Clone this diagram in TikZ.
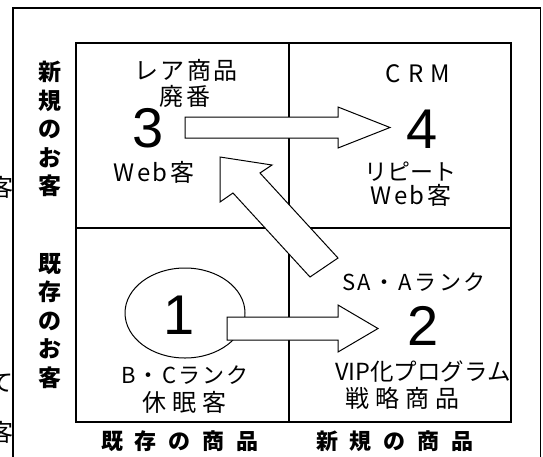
\documentclass[tikz,border=0pt]{standalone}
\usepackage{fontspec}
\newfontfamily\jp{Noto Sans CJK JP}
\newfontfamily\num{Liberation Sans}
\tikzset{
  x=1pt, y=-1pt,
  frame/.style={line width=1.2pt, draw=black},
  blockarrow/.style={line width=1pt, draw=black, fill=white, line join=miter},
  txt/.style={inner sep=0pt, font=\jp\fontsize{24}{26}\selectfont\addfontfeature{LetterSpace=10}},
  digit/.style={inner sep=0pt, font=\num\fontsize{56}{56}\selectfont},
  side/.style={inner sep=0pt, align=center, font=\jp\bfseries\fontsize{23}{28.5}\selectfont},
  bottomlbl/.style={inner sep=0pt, font=\jp\bfseries\fontsize{22}{24}\selectfont},
  ghost/.style={inner sep=0pt, font=\jp\fontsize{24}{26}\selectfont}
}
\begin{document}
\begin{tikzpicture}
\useasboundingbox (0,0) rectangle (543,456);
\fill[white] (0,0) rectangle (543,456);
% clipped fragments of outside text (cut off in the reference too)
\begin{scope}
  \clip (0,0) rectangle (13,456);
  \node[ghost] (g1) at (2,187) {客};
  \node[ghost] (g2) at (2,383) {て};
  \node[ghost] (g3) at (2,432) {客};
\end{scope}
% outer frame (open at bottom)
\draw[frame] (13,460) -- (13,8) -- (540.5,8) -- (540.5,460);
% inner matrix
\draw[frame] (76,43) rectangle (511,422);
\draw[frame] (289,43) -- (289,422);
\draw[frame] (76,228) -- (511,228);
% side labels
\node[side] (newcust) at (50,129) {新\\規\\の\\お\\客};
\node[side] (oldcust) at (50,321) {既\\存\\の\\お\\客};
\node[bottomlbl] (oldprod) at (180,441) {既\hspace{12pt}存\hspace{12pt}の\hspace{12pt}商\hspace{12pt}品};
\node[bottomlbl] (newprod) at (395,441) {新\hspace{12pt}規\hspace{12pt}の\hspace{12pt}商\hspace{12pt}品};
% ellipse of quadrant 1
\draw[line width=1pt] (185,313) ellipse [x radius=60, y radius=45];
% block arrows
\draw[blockarrow] (185,117) -- (338,117) -- (338,107) -- (390,127.5) -- (338,148) -- (338,138) -- (185,138) -- cycle;
\draw[blockarrow] (227,317) -- (338,317) -- (338,305) -- (378,328.5) -- (338,352) -- (338,340) -- (227,340) -- cycle;
\draw[blockarrow] (220,157) -- (272,165) -- (260,173) -- (338,258) -- (310,277) -- (233,193) -- (220,202) -- cycle;
% quadrant 3
\node[txt] (q3a) at (186,70) {レア商品};
\node[txt] (q3b) at (185,96) {廃番};
\node[digit] (n3) at (148,128) {3};
\node[txt] (q3c) at (154,172) {Web客};
% quadrant 4
\node[txt, font=\jp\fontsize{24}{26}\selectfont\addfontfeature{LetterSpace=30}] (q4a) at (418,74) {CRM};
\node[digit] (n4) at (422,129) {4};
\node[txt, font=\jp\fontsize{23}{25}\selectfont] (q4b) at (410,172) {リピート};
\node[txt] (q4c) at (411,195) {Web客};
% quadrant 1
\node[digit] (n1) at (179,315) {1};
\node[txt, font=\jp\fontsize{22}{24}\selectfont\addfontfeature{LetterSpace=10}] (q1a) at (185,375) {B・Cランク};
\node[txt, font=\jp\fontsize{24}{26}\selectfont\addfontfeature{LetterSpace=25}] (q1b) at (184,402) {休眠客};
% quadrant 2
\node[txt, font=\jp\fontsize{22}{24}\selectfont\addfontfeature{LetterSpace=12}] (q2a) at (414,282) {SA・Aランク};
\node[digit] (n2) at (423,326) {2};
\node[txt, font=\jp\fontsize{23.5}{25}\selectfont] (q2b) at (423,372) {VIP化プログラム};
\node[txt, font=\jp\fontsize{24}{26}\selectfont\addfontfeature{LetterSpace=25}] (q2c) at (402,398) {戦略商品};
\end{tikzpicture}
\end{document}
